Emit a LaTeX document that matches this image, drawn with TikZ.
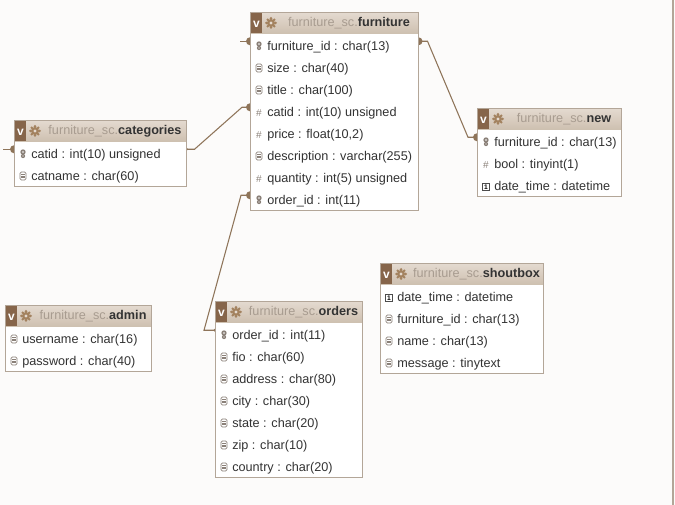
\documentclass[tikz,border=0pt]{standalone}
\usepackage{fontspec}
\setmainfont{Liberation Sans}
\usetikzlibrary{backgrounds}
\definecolor{pagebg}{HTML}{FCFBFA}
\definecolor{tblline}{HTML}{B3A698}
\definecolor{headtop}{HTML}{E4DAD0}
\definecolor{headbot}{HTML}{CDBFAF}
\definecolor{vbrown}{HTML}{86654A}
\definecolor{gearbrown}{HTML}{A3825F}
\definecolor{prefgray}{HTML}{A89C90}
\definecolor{relbrown}{HTML}{8E7459}
\definecolor{icongray}{HTML}{8A8078}
\def\px{0.75pt}
\tikzset{
  dbhead/.style={top color=headtop, bottom color=headbot, inner sep=0, minimum height=22*\px},
  dbrow/.style={fill=white, inner sep=0, minimum height=22*\px},
  rowtext/.style={font=\fontsize{9.5}{11}\selectfont, text=black!80, inner sep=0},
  rel/.style={relbrown, line width=0.8pt},
}
% row icons
\newcommand\dbiconkey[2]{
  \fill[icongray] (#1,#2-2) circle (2pt);
  \fill[white] (#1,#2-2) circle (0.7pt);
  \fill[icongray] (#1,#2+2) circle (1.6pt);
  \fill[white] (#1,#2+2) circle (0.5pt);
}
\newcommand\dbiconfld[2]{
  \draw[icongray, line width=0.5pt, rounded corners=1pt] (#1-3,#2-4) rectangle (#1+3,#2+4);
  \foreach \d in {-1.7,0,1.7}
    \draw[icongray, line width=0.4pt] (#1-1.7,#2+\d) -- (#1+1.7,#2+\d);
}
\newcommand\dbiconnum[2]{
  \node[text=icongray, font=\fontsize{7.5}{7.5}\selectfont, inner sep=0] at (#1,#2+1) {\#};
}
\newcommand\dbicondate[2]{
  \draw[black!70, line width=0.5pt] (#1-3.5,#2-3) rectangle (#1+3.5,#2+4);
  \node[font=\fontsize{5}{5}\selectfont\bfseries, inner sep=0] at (#1,#2+0.8) {1};
}
\newcommand\dbgear[2]{
  \foreach \a in {0,45,...,315}
    \fill[gearbrown] ([shift={(\a:3.4pt)}]#1,#2) circle (1.1pt);
  \fill[gearbrown] (#1,#2) circle (3pt);
  \fill[headtop] (#1,#2) circle (1.2pt);
}
% one table: name, left, top, width, title, rows
\newcommand\dbtable[6]{
  \def\tx{#2} \def\ty{#3} \def\tw{#4}
  \node[dbhead, minimum width=\tw*\px, anchor=north west] (#1) at (\tx,\ty) {};
  \fill[vbrown] (\tx+1,\ty+1) rectangle (\tx+12,\ty+21);
  \node[text=white, font=\fontsize{9}{9}\selectfont\bfseries, inner sep=0] at (\tx+6.5,\ty+12) {v};
  \dbgear{\tx+21}{\ty+11}
  \node[rowtext] at ({(2*\tx+30+\tw)/2},\ty+11.5) {\textcolor{prefgray}{furniture\_sc.}\textbf{#5}};
  \foreach \ic/\txt [count=\i] in {#6}
  {
    \node[dbrow, minimum width=\tw*\px, anchor=north west] (#1-\i) at (\tx,\ty+22*\i) {};
    \csname dbicon\ic\endcsname{\tx+9}{\ty+22*\i+12}
    \node[rowtext, anchor=west] at (\tx+17,\ty+22*\i+13.5) {\txt};
    \xdef\nrows{\i}
  }
  \draw[tblline, line width=0.6pt] (\tx,\ty) rectangle (\tx+\tw,\ty+22*\nrows+22);
}

\begin{document}
\begin{tikzpicture}[x=0.75pt, y=-0.75pt]
\useasboundingbox (0,0) rectangle (675,505);

\dbtable{furniture}{250}{12}{168}{furniture}{key/{furniture\_id : char(13)}, fld/{size : char(40)}, fld/{title : char(100)}, num/{catid : int(10) unsigned}, num/{price : float(10,2)}, fld/{description : varchar(255)}, num/{quantity : int(5) unsigned}, key/{order\_id : int(11)}}
\dbtable{categories}{14}{120}{172}{categories}{key/{catid : int(10) unsigned}, fld/{catname : char(60)}}
\dbtable{new}{477}{108}{144}{new}{key/{furniture\_id : char(13)}, num/{bool : tinyint(1)}, date/{date\_time : datetime}}
\dbtable{admin}{5}{305}{146}{admin}{fld/{username : char(16)}, fld/{password : char(40)}}
\dbtable{orders}{215}{301}{147}{orders}{key/{order\_id : int(11)}, fld/{fio : char(60)}, fld/{address : char(80)}, fld/{city : char(30)}, fld/{state : char(20)}, fld/{zip : char(10)}, fld/{country : char(20)}}
\dbtable{shoutbox}{380}{263}{163}{shoutbox}{date/{date\_time : datetime}, fld/{furniture\_id : char(13)}, fld/{name : char(13)}, fld/{message : tinytext}}

\begin{scope}[on background layer]
  \fill[pagebg] (0,0) rectangle (675,505);
  \draw[tblline, line width=0.8pt] (673,0) -- (673,505);
  % relations
  \draw[rel] ([yshift=3pt]furniture-1.east) -- ++(9,0) -- ([shift={(-9,0)},yshift=3pt]new-1.west) -- ([yshift=3pt]new-1.west);
  \fill[relbrown] ([yshift=3pt]furniture-1.east) circle (3pt);
  \fill[relbrown] ([yshift=3pt]new-1.west) circle (3pt);
  \draw[rel] ([yshift=3pt]categories-1.east) -- ++(8,0) -- ([shift={(-8,0)},yshift=3pt]furniture-4.west) -- ([yshift=3pt]furniture-4.west);
  \fill[relbrown] ([yshift=3pt]categories-1.east) circle (1.2pt);
  \fill[relbrown] ([yshift=3pt]furniture-4.west) circle (3pt);
  \draw[rel] ([yshift=3pt]furniture-8.west) -- ++(-9,0) -- ([shift={(-11,0)},yshift=3pt]orders-1.west) -- ([yshift=3pt]orders-1.west);
  \fill[relbrown] ([yshift=3pt]furniture-8.west) circle (3pt);
  \fill[relbrown] ([yshift=3pt]orders-1.west) circle (1.2pt);
  \draw[rel] ([yshift=3pt]furniture-1.west) -- ++(-10,0);
  \fill[relbrown] ([yshift=3pt]furniture-1.west) circle (3pt);
  \draw[rel] ([yshift=3pt]categories-1.west) -- ++(-11,0);
  \fill[relbrown] ([yshift=3pt]categories-1.west) circle (3pt);
\end{scope}
\end{tikzpicture}
\end{document}
